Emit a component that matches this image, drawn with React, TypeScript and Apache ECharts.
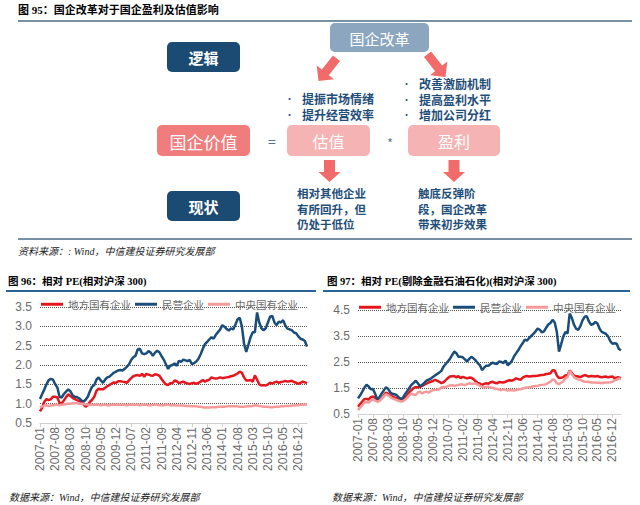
import React, { useEffect, useRef } from 'react';
import * as echarts from 'echarts';

// ---------- categories ----------
const months: string[] = [];
for (let y = 2007; y <= 2017; y++) {
  for (let m = 1; m <= 12; m++) {
    if (y === 2017 && m > 4) break;
    months.push(`${y}-${String(m).padStart(2, '0')}`);
  }
}

const seriesNames = ['地方国有企业', '民营企业', '中央国有企业'];

// ---------- 图96 相对PE(相对沪深300) ----------
const pe96Local = [
  0.80, 0.90, 1.05, 1.12, 1.09, 1.12, 1.18, 1.18, 1.16, 1.02,
  1.01, 1.08, 1.17, 1.24, 1.20, 1.15, 1.12, 1.09, 1.07, 1.04,
  0.98, 0.92, 0.96, 1.05, 1.10, 1.18, 1.33, 1.39, 1.37, 1.37,
  1.41, 1.45, 1.48, 1.52, 1.55, 1.54, 1.58, 1.58, 1.57, 1.56,
  1.54, 1.60, 1.66, 1.71, 1.73, 1.74, 1.72, 1.77, 1.70, 1.77,
  1.75, 1.73, 1.72, 1.76, 1.75, 1.72, 1.64, 1.56, 1.50, 1.48,
  1.53, 1.53, 1.60, 1.58, 1.53, 1.55, 1.57, 1.54, 1.52, 1.51,
  1.53, 1.54, 1.51, 1.54, 1.57, 1.61, 1.57, 1.60, 1.62, 1.68,
  1.66, 1.65, 1.66, 1.68, 1.66, 1.67, 1.68, 1.69, 1.71, 1.72,
  1.75, 1.78, 1.83, 1.80, 1.68, 1.60, 1.60, 1.61, 1.57, 1.73,
  1.62, 1.50, 1.47, 1.48, 1.47, 1.50, 1.54, 1.52, 1.55, 1.57,
  1.54, 1.56, 1.57, 1.59, 1.57, 1.58, 1.59, 1.56, 1.54, 1.51,
  1.54, 1.57, 1.55, 1.53,
];
const pe96Private = [
  1.12, 1.25, 1.37, 1.50, 1.61, 1.64, 1.62, 1.50, 1.42, 1.18,
  1.16, 1.25, 1.31, 1.37, 1.32, 1.22, 1.18, 1.17, 1.14, 1.09,
  1.05, 1.10, 1.18, 1.32, 1.44, 1.48, 1.62, 1.68, 1.60, 1.54,
  1.62, 1.68, 1.70, 1.75, 1.80, 1.83, 1.86, 1.87, 1.86, 1.90,
  1.95, 2.02, 2.13, 2.20, 2.24, 2.40, 2.42, 2.30, 2.28, 2.30,
  2.36, 2.32, 2.24, 2.32, 2.37, 2.33, 2.23, 2.14, 2.02, 1.90,
  1.98, 2.00, 2.04, 1.98, 2.11, 2.08, 2.14, 2.12, 2.10, 2.13,
  2.02, 2.05, 2.09, 2.16, 2.28, 2.42, 2.54, 2.60, 2.66, 2.72,
  2.68, 2.78, 2.85, 2.92, 3.03, 2.99, 2.93, 2.89, 2.95, 2.92,
  3.04, 3.18, 3.22, 3.00, 2.55, 2.34, 2.52, 2.72, 2.85, 2.85,
  3.36, 3.10, 2.95, 2.90, 2.95, 3.10, 3.25, 3.27, 3.10, 3.03,
  3.12, 3.10, 3.16, 3.02, 2.94, 2.92, 2.90, 2.84, 2.82, 2.74,
  2.68, 2.66, 2.62, 2.48,
];
const pe96Central = [
  0.90, 0.93, 0.95, 0.95, 0.94, 0.95, 0.96, 0.97, 0.97, 0.96,
  0.97, 0.98, 0.99, 1.00, 1.00, 1.01, 1.01, 1.01, 1.00, 1.00,
  0.99, 0.98, 0.98, 0.97, 0.97, 0.97, 0.98, 0.97, 0.96, 0.97,
  0.97, 0.96, 0.96, 0.97, 0.97, 0.97, 0.98, 0.97, 0.97, 0.97,
  0.96, 0.97, 0.97, 0.98, 0.97, 0.97, 0.96, 0.97, 0.97, 0.97,
  0.96, 0.96, 0.97, 0.97, 0.97, 0.96, 0.96, 0.96, 0.97, 0.97,
  0.96, 0.96, 0.96, 0.95, 0.95, 0.95, 0.95, 0.94, 0.94, 0.94,
  0.93, 0.93, 0.93, 0.92, 0.92, 0.91, 0.90, 0.90, 0.90, 0.91,
  0.91, 0.91, 0.92, 0.92, 0.92, 0.92, 0.93, 0.93, 0.93, 0.93,
  0.93, 0.93, 0.92, 0.92, 0.92, 0.93, 0.94, 0.93, 0.94, 0.96,
  0.95, 0.94, 0.93, 0.92, 0.92, 0.92, 0.91, 0.91, 0.92, 0.92,
  0.92, 0.93, 0.93, 0.94, 0.94, 0.94, 0.95, 0.95, 0.96, 0.96,
  0.97, 0.97, 0.98, 0.98,
];

// ---------- 图97 相对PE(剔除金融石油石化)(相对沪深300) ----------
const pe97Local = [
  0.78, 0.88, 0.98, 1.08, 1.08, 1.06, 1.15, 1.17, 1.12, 1.01,
  1.04, 1.10, 1.20, 1.32, 1.28, 1.22, 1.18, 1.14, 1.10, 1.07,
  1.05, 1.06, 1.13, 1.22, 1.34, 1.42, 1.50, 1.53, 1.53, 1.54,
  1.58, 1.63, 1.67, 1.71, 1.74, 1.77, 1.81, 1.78, 1.74, 1.69,
  1.72, 1.80, 1.88, 1.94, 1.95, 1.96, 1.91, 1.96, 1.88, 1.93,
  1.90, 1.87, 1.90, 1.89, 1.84, 1.76, 1.70, 1.67, 1.62, 1.66,
  1.68, 1.66, 1.72, 1.74, 1.70, 1.68, 1.73, 1.72, 1.71, 1.74,
  1.78, 1.80, 1.78, 1.82, 1.87, 1.84, 1.81, 1.90, 1.94, 1.96,
  1.94, 1.95, 1.96, 1.96, 1.97, 1.99, 2.00, 2.01, 2.04, 2.05,
  2.07, 2.18, 2.17, 1.98, 1.88, 1.89, 1.92, 1.98, 2.00, 2.17,
  2.08, 1.98, 1.95, 1.94, 1.92, 1.96, 2.00, 1.97, 1.94, 1.96,
  1.95, 1.94, 1.96, 1.93, 1.91, 1.93, 1.94, 1.91, 1.93, 1.94,
  1.88, 1.90, 1.91, 1.87,
];
const pe97Private = [
  1.10, 1.22, 1.36, 1.52, 1.62, 1.56, 1.45, 1.46, 1.28, 1.06,
  1.14, 1.28, 1.40, 1.52, 1.48, 1.34, 1.28, 1.26, 1.23, 1.14,
  1.08, 1.12, 1.26, 1.38, 1.50, 1.62, 1.70, 1.78, 1.68, 1.56,
  1.62, 1.70, 1.78, 1.82, 1.86, 1.92, 1.98, 2.04, 2.09, 2.16,
  2.32, 2.42, 2.52, 2.62, 2.76, 2.90, 2.84, 2.70, 2.70, 2.68,
  2.60, 2.52, 2.62, 2.70, 2.64, 2.56, 2.46, 2.38, 2.19, 2.28,
  2.36, 2.36, 2.42, 2.48, 2.44, 2.42, 2.52, 2.50, 2.46, 2.56,
  2.38, 2.44, 2.55, 2.72, 2.84, 2.96, 3.10, 3.22, 3.36, 3.32,
  3.42, 3.50, 3.58, 3.67, 3.79, 3.74, 3.64, 3.68, 3.82, 3.94,
  4.00, 4.12, 4.02, 3.65, 2.90, 3.18, 3.48, 3.65, 3.60, 4.36,
  4.20, 3.94, 3.78, 3.74, 3.88, 4.10, 4.24, 4.26, 4.06, 3.93,
  3.96, 4.04, 3.98, 3.78, 3.66, 3.62, 3.58, 3.48, 3.30, 3.20,
  3.22, 3.20, 3.00, 2.95,
];
const pe97Central = [
  0.65, 0.75, 0.84, 0.94, 0.96, 0.94, 1.02, 1.06, 1.02, 0.97,
  1.00, 1.08, 1.17, 1.26, 1.22, 1.16, 1.10, 1.07, 1.04, 1.01,
  0.98, 0.99, 1.05, 1.12, 1.22, 1.28, 1.25, 1.23, 1.33, 1.36,
  1.29, 1.34, 1.36, 1.32, 1.38, 1.42, 1.42, 1.43, 1.45, 1.52,
  1.54, 1.53, 1.57, 1.60, 1.61, 1.58, 1.60, 1.62, 1.64, 1.63,
  1.61, 1.65, 1.68, 1.66, 1.66, 1.68, 1.63, 1.58, 1.55, 1.53,
  1.54, 1.55, 1.52, 1.50, 1.48, 1.46, 1.44, 1.42, 1.45, 1.43,
  1.40, 1.42, 1.41, 1.40, 1.42, 1.44, 1.45, 1.48, 1.50, 1.52,
  1.53, 1.54, 1.57, 1.58, 1.58, 1.61, 1.62, 1.63, 1.65, 1.70,
  1.74, 1.83, 1.80, 1.68, 1.65, 1.70, 1.76, 1.87, 1.92, 2.16,
  2.04, 1.92, 1.86, 1.83, 1.81, 1.77, 1.74, 1.74, 1.73, 1.71,
  1.71, 1.71, 1.70, 1.70, 1.68, 1.70, 1.71, 1.71, 1.72, 1.74,
  1.80, 1.82, 1.87, 1.85,
];

// ---------- styles ----------
const RED = '#e5161e';
const NAVY_LINE = '#1a4d7a';
const PINK = '#f59a9a';
const COLORS = [RED, NAVY_LINE, PINK];

const FONT_CJK = "'Noto Sans CJK SC', sans-serif";
const FONT_TITLE = "'Liberation Serif', 'Noto Sans CJK SC', serif";
const NAVY_BOX = '#1b4a72';
const TXT_NAVY = '#1f4e79';
const ARROW = '#f26b6b';

type TxtOpt = {
  fill?: string;
  size?: number;
  family?: string;
  weight?: string;
  style?: string;
  align?: string;
  lineHeight?: number;
  vAlign?: string;
};
const txt = (x: number, y: number, text: string, o: TxtOpt = {}) => ({
  type: 'text',
  x,
  y,
  silent: true,
  style: {
    text,
    fill: o.fill ?? '#000',
    fontSize: o.size ?? 12,
    fontFamily: o.family ?? FONT_CJK,
    fontWeight: o.weight ?? 'normal',
    fontStyle: o.style ?? 'normal',
    lineHeight: o.lineHeight,
    align: o.align ?? 'left',
    textAlign: o.align ?? 'left',
    verticalAlign: o.vAlign ?? 'middle',
    textVerticalAlign: o.vAlign ?? 'middle',
  },
});

const box = (x: number, y: number, w: number, h: number, fill: string, text: string, size: number, weight = 'normal') => [
  { type: 'rect', silent: true, shape: { x, y, width: w, height: h, r: 5 }, style: { fill } },
  txt(x + w / 2, y + h / 2 + 0.5, text, { fill: '#fff', size, weight, align: 'center' }),
];

const arrowPts = (tx: number, ty: number, dx: number, dy: number, h: number, W: number, w: number, L: number) => {
  const len = Math.hypot(dx, dy);
  const ux = dx / len, uy = dy / len;
  const nx = -uy, ny = ux;
  const bx = tx - ux * h, by = ty - uy * h;
  const sx = bx - ux * L, sy = by - uy * L;
  return [
    [sx + (nx * w) / 2, sy + (ny * w) / 2],
    [bx + (nx * w) / 2, by + (ny * w) / 2],
    [bx + (nx * W) / 2, by + (ny * W) / 2],
    [tx, ty],
    [bx - (nx * W) / 2, by - (ny * W) / 2],
    [bx - (nx * w) / 2, by - (ny * w) / 2],
    [sx - (nx * w) / 2, sy - (ny * w) / 2],
  ];
};
const arrow = (pts: number[][]) => ({ type: 'polygon', silent: true, shape: { points: pts }, style: { fill: ARROW } });

const line = (x1: number, y1: number, x2: number, y2: number, stroke: string, lineWidth: number) => ({
  type: 'line',
  silent: true,
  shape: { x1, y1, x2, y2 },
  style: { stroke, lineWidth },
});

const bulletOpt: TxtOpt = { fill: TXT_NAVY, size: 9, lineHeight: 16, vAlign: 'top' };
const bodyOpt: TxtOpt = { fill: TXT_NAVY, size: 12, weight: 'bold', lineHeight: 16, vAlign: 'top' };
const lowOpt: TxtOpt = { fill: TXT_NAVY, size: 11.5, weight: 'bold', lineHeight: 15.5, vAlign: 'top' };

const graphics: any[] = [
  txt(18, 10, '图 95：国企改革对于国企盈利及估值影响', { size: 11, weight: 'bold', family: FONT_TITLE }),
  line(18, 21, 632, 21, '#4d6a85', 1.5),
  ...box(330, 23, 99, 29, '#8ba6be', '国企改革', 15),
  ...box(167, 42, 73, 30, NAVY_BOX, '逻辑', 15, 'bold'),
  arrow(arrowPts(318.5, 81, -19, 24, 11, 22, 9, 18)),
  arrow(arrowPts(445.5, 77, 19, 24, 11, 22, 9, 18)),
  txt(285, 90, '•\n•', bulletOpt),
  txt(302, 90, '提振市场情绪\n提升经营效率', bodyOpt),
  txt(402, 76, '•\n•\n•', { ...bulletOpt, lineHeight: 15.5 }),
  txt(419, 76, '改善激励机制\n提高盈利水平\n增加公司分红', { ...bodyOpt, lineHeight: 15.5 }),
  ...box(157, 125, 93, 31, '#f07c7c', '国企价值', 17),
  txt(272, 141, '=', { fill: '#5a7390', size: 14, align: 'center' }),
  ...box(287, 125, 83, 31, '#f6b3b3', '估值', 16),
  txt(390, 142, '*', { fill: '#5a7390', size: 12, align: 'center' }),
  ...box(408, 125, 92, 31, '#f6b3b3', '盈利', 16),
  arrow(arrowPts(329.5, 182, 0, 1, 10, 22, 11, 12)),
  arrow(arrowPts(454, 182, 0, 1, 10, 22, 11, 12)),
  ...box(167, 191, 73, 30, NAVY_BOX, '现状', 15, 'bold'),
  txt(297, 185.5, '相对其他企业\n有所回升，但\n仍处于低位', lowOpt),
  txt(418, 185.5, '触底反弹阶\n段，国企改革\n带来初步效果', lowOpt),
  line(18, 239, 632, 239, '#4d6a85', 1.5),
  txt(18, 251, '资料来源：: Wind，中信建投证券研究发展部', { size: 10, style: 'italic', family: FONT_TITLE, fill: '#222' }),

  txt(8, 281, '图 96：相对 PE(相对沪深 300)', { size: 10.5, weight: 'bold', family: FONT_TITLE }),
  line(6, 291, 316, 291, '#2a6496', 2),
  txt(327, 281, '图 97：相对 PE(剔除金融石油石化)(相对沪深 300)', { size: 10.5, weight: 'bold', family: FONT_TITLE }),
  line(323, 291, 630, 291, '#2a6496', 2),
  txt(9, 497, '数据来源：Wind，中信建投证券研究发展部', { size: 10, style: 'italic', family: FONT_TITLE, fill: '#222' }),
  txt(332, 497, '数据来源：Wind，中信建投证券研究发展部', { size: 10, style: 'italic', family: FONT_TITLE, fill: '#222' }),
];

const GRID_DOT = '#555555';
const NONE = 'rgba(0,0,0,0)';

const xAxisCommon = {
  type: 'category',
  data: months,
  boundaryGap: false,
  axisLine: { show: true, lineStyle: { color: '#d0d0d0', width: 1 } },
  axisTick: { show: true, interval: 6, length: 4, lineStyle: { color: '#d0d0d0' } },
  axisLabel: {
    interval: 6,
    rotate: 90,
    margin: 4,
    fontSize: 12,
    color: '#6b6b6b',
    fontFamily: "'Liberation Sans', Arial, sans-serif",
  },
  splitLine: { show: false },
};

const legendCommon = {
  data: seriesNames,
  icon: 'rect',
  itemWidth: 22,
  itemHeight: 3,
  itemGap: 4,
  orient: 'horizontal',
  textStyle: { fontSize: 10.5, color: '#6b6b6b', fontFamily: FONT_CJK },
};

const mkSeries = (name: string, data: number[], idx: number, color: string) => ({
  name,
  type: 'line',
  xAxisIndex: idx,
  yAxisIndex: idx,
  data,
  showSymbol: false,
  symbol: 'none',
  smooth: false,
  lineStyle: { width: 2.5, color },
  itemStyle: { color },
  emphasis: { disabled: true },
});

export default function App() {
  const ref = useRef<HTMLDivElement>(null);
  useEffect(() => {
    if (!ref.current) return;
    const chart = echarts.init(ref.current, null, { renderer: 'svg' });
    const option: any = {
      animation: false,
      backgroundColor: '#ffffff',
      color: COLORS,
      graphic: { elements: graphics },
      legend: [
        { ...legendCommon, left: 36, top: 294 },
        { ...legendCommon, left: 354, top: 297 },
      ],
      grid: [
        { left: 40, top: 307, width: 267, height: 116, containLabel: false },
        { left: 358, top: 310, width: 263, height: 104, containLabel: false },
      ],
      xAxis: [
        { ...xAxisCommon, gridIndex: 0 },
        { ...xAxisCommon, gridIndex: 1 },
      ],
      yAxis: [
        {
          type: 'value',
          gridIndex: 0,
          min: 0.5,
          max: 3.5,
          interval: 0.5,
          axisLine: { show: false },
          axisTick: { show: false },
          axisLabel: {
            formatter: (v: number) => v.toFixed(1),
            fontSize: 12,
            color: '#6b6b6b',
            margin: 8,
            fontFamily: "'Liberation Sans', Arial, sans-serif",
          },
          splitLine: {
            show: true,
            lineStyle: { type: 'dotted', width: 1, color: [NONE, GRID_DOT, GRID_DOT, GRID_DOT, GRID_DOT, GRID_DOT, GRID_DOT] },
          },
        },
        {
          type: 'value',
          gridIndex: 1,
          min: 0.5,
          max: 4.5,
          interval: 0.5,
          axisLine: { show: false },
          axisTick: { show: false },
          axisLabel: {
            formatter: (v: number) => (Math.round(v * 2) % 2 === 1 ? v.toFixed(1) : ''),
            fontSize: 12,
            color: '#6b6b6b',
            margin: 8,
            fontFamily: "'Liberation Sans', Arial, sans-serif",
          },
          splitLine: {
            show: true,
            lineStyle: {
              type: 'dotted',
              width: 1,
              color: [NONE, NONE, GRID_DOT, NONE, GRID_DOT, NONE, GRID_DOT, NONE, GRID_DOT],
            },
          },
        },
      ],
      series: [
        mkSeries(seriesNames[0], pe96Local, 0, RED),
        mkSeries(seriesNames[1], pe96Private, 0, NAVY_LINE),
        mkSeries(seriesNames[2], pe96Central, 0, PINK),
        mkSeries(seriesNames[0], pe97Local, 1, RED),
        mkSeries(seriesNames[1], pe97Private, 1, NAVY_LINE),
        mkSeries(seriesNames[2], pe97Central, 1, PINK),
      ],
    };
    chart.setOption(option);
    return () => {
      chart.dispose();
    };
  }, []);
  return <div ref={ref} style={{ position: 'absolute', left: 0, top: 0, width: 640, height: 505 }} />;
}
